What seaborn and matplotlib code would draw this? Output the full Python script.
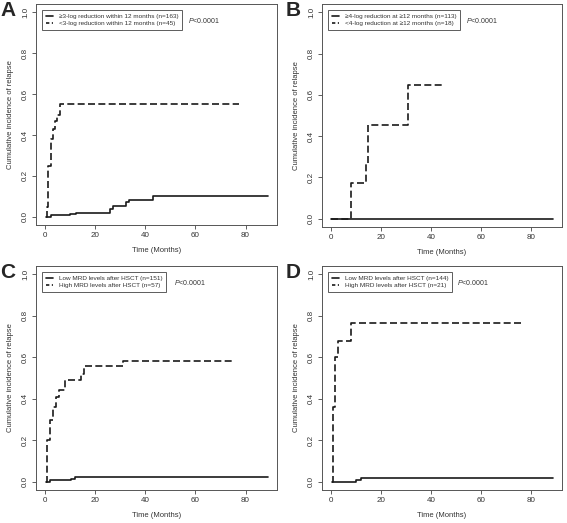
import pandas as pd
import matplotlib
matplotlib.use("Agg")
import matplotlib.pyplot as plt
import seaborn as sns

sns.set_style("ticks")
plt.rcParams['font.family'] = ['Liberation Sans', 'DejaVu Sans']
plt.rcParams['mathtext.fontset'] = 'custom'
plt.rcParams['mathtext.it'] = 'Liberation Sans:italic'
plt.rcParams['mathtext.rm'] = 'Liberation Sans'

# Panel A: 3-log reduction within 12 months
a_low_t = [0.3, 2.6, 10, 12.5, 26, 27, 32.5, 33.5, 43, 89]
a_low_y = [0.0, 0.007, 0.013, 0.02, 0.04, 0.055, 0.07, 0.083, 0.1, 0.1]
a_high_t = [0.5, 1.0, 1.4, 2.4, 3.2, 4.2, 5.0, 6.0, 77.5]
a_high_y = [0.0, 0.05, 0.25, 0.38, 0.43, 0.47, 0.5, 0.55, 0.55]
a_labels = ["\u22653-log reduction within 12 months (n=163)",
            "<3-log reduction within 12 months (n=45)"]

# Panel B: 4-log reduction at >=12 months
b_low_t = [0.0, 89]
b_low_y = [0.0, 0.0]
b_high_t = [0.0, 8.2, 14.1, 15.0, 31.0, 45.5]
b_high_y = [0.0, 0.172, 0.267, 0.455, 0.646, 0.646]
b_labels = ["\u22654-log reduction at \u226512 months (n=113)",
            "<4-log reduction at \u226512 months (n=18)"]

# Panel C: MRD after HSCT
c_low_t = [0.3, 2.2, 10.5, 12, 89]
c_low_y = [0.0, 0.007, 0.013, 0.023, 0.023]
c_high_t = [0.5, 1.0, 2.2, 3.1, 4.3, 5.7, 8.0, 14.5, 15.5, 31.2, 75.4]
c_high_y = [0.0, 0.2, 0.297, 0.36, 0.41, 0.44, 0.49, 0.52, 0.556, 0.583, 0.583]
c_labels = ["Low MRD levels after HSCT (n=151)",
            "High MRD levels after HSCT (n=57)"]

# Panel D: MRD after HSCT
d_low_t = [0.3, 10.2, 12, 89]
d_low_y = [0.0, 0.008, 0.018, 0.018]
d_high_t = [0.3, 0.7, 1.6, 2.9, 8.2, 76.7]
d_high_y = [0.0, 0.36, 0.6, 0.68, 0.765, 0.765]
d_labels = ["Low MRD levels after HSCT (n=144)",
            "High MRD levels after HSCT (n=21)"]

panels = [
    ("A", a_low_t, a_low_y, a_high_t, a_high_y, a_labels, [36, 4, 241, 221], 0.63),
    ("B", b_low_t, b_low_y, b_high_t, b_high_y, b_labels, [322, 4, 240, 223], 0.60),
    ("C", c_low_t, c_low_y, c_high_t, c_high_y, c_labels, [36, 266, 241, 224], 0.573),
    ("D", d_low_t, d_low_y, d_high_t, d_high_y, d_labels, [322, 266, 240, 224], 0.5625),
]

W, H = 567, 523
fig = plt.figure(figsize=(W / 100, H / 100), dpi=100)

for letter, lt, ly, ht, hy, labels, box, px in panels:
    x0, y0, w, h = box
    ax = fig.add_axes([x0 / W, 1 - (y0 + h) / H, w / W, h / H])
    df_low = pd.DataFrame({'time': lt, 'cir': ly})
    df_high = pd.DataFrame({'time': ht, 'cir': hy})
    sns.lineplot(data=df_low, x='time', y='cir', ax=ax, estimator=None,
                 drawstyle='steps-post', color='#1a1a1a', lw=1.2, label=labels[0])
    sns.lineplot(data=df_high, x='time', y='cir', ax=ax, estimator=None,
                 drawstyle='steps-post', color='#1a1a1a', lw=1.2,
                 dashes=False, label=labels[1])
    ax.lines[1].set_dashes((4.2, 2.0))

    ax.set_xlim(-3.56, 92.56)
    ax.set_ylim(-0.04, 1.04)
    ax.set_xticks([0, 20, 40, 60, 80])
    ax.set_yticks([0.0, 0.2, 0.4, 0.6, 0.8, 1.0])
    ax.set_yticklabels(["0.0", "0.2", "0.4", "0.6", "0.8", "1.0"],
                       rotation=90, va='center')
    ax.tick_params(labelsize=5.8, length=3, width=0.6, pad=2,
                   color='#444', labelcolor='#333')
    for s in ax.spines.values():
        s.set_color('#555')
        s.set_linewidth(0.7)
    ax.set_xlabel("Time (Months)", fontsize=5.5, color='#333', labelpad=6)
    ax.set_ylabel("Cumulative incidence of relapse", fontsize=5.5,
                  color='#333', labelpad=6)

    leg = ax.legend(loc='upper left', bbox_to_anchor=(0.025, 0.975),
                    borderaxespad=0, fontsize=4.6, handlelength=1.1,
                    handletextpad=0.9, labelspacing=0.3, borderpad=0.6,
                    fancybox=False, frameon=True)
    leg.get_frame().set_edgecolor('#333')
    leg.get_frame().set_linewidth(0.7)
    for t in leg.get_texts():
        t.set_color('#333')
    leg.get_lines()[1].set_dashes((2, 1.5))

    ax.text(px, 0.925, r"$P$<0.0001", transform=ax.transAxes,
            fontsize=5, color='#333', va='center', ha='left')

    fig.text((x0 - 36) / W, 1 - 10 / H - (y0 - 4) / H, letter,
             fontsize=15, fontweight='bold', va='center', ha='left')

fig.savefig('out.png', dpi=100)
